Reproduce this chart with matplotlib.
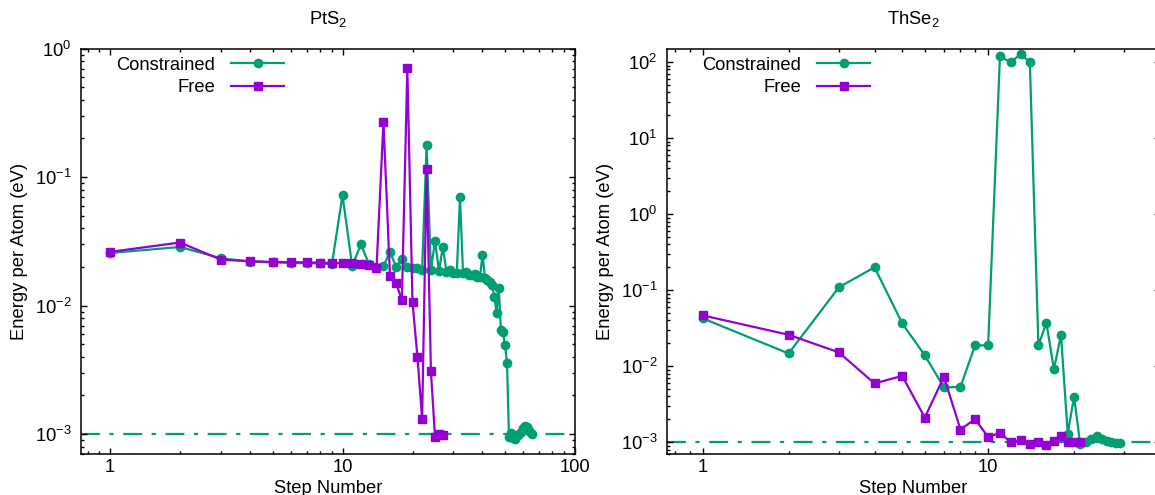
import math
import matplotlib
matplotlib.use("Agg")
import matplotlib.pyplot as plt
from matplotlib.ticker import LogLocator, FuncFormatter, NullFormatter

plt.rcParams["font.family"] = ["Liberation Sans", "DejaVu Sans"]
plt.rcParams["mathtext.fontset"] = "custom"
plt.rcParams["mathtext.rm"] = "Liberation Sans"
plt.rcParams["mathtext.it"] = "Liberation Sans:italic"

GREEN = "#009E73"
PURPLE = "#9400D3"

# PtS2 panel
pts2_con_steps = list(range(1, 66))
pts2_con = [0.0257, 0.0286, 0.0234, 0.0220, 0.0217, 0.0215, 0.0214, 0.0213, 0.0210, 0.0724,
            0.0204, 0.0300, 0.0210, 0.0200, 0.0203, 0.0262, 0.0200, 0.0231, 0.0200, 0.0198,
            0.0195, 0.0188, 0.178, 0.0189, 0.0318, 0.0186, 0.0286, 0.0184, 0.0190, 0.0181,
            0.0179, 0.0695, 0.0178, 0.0182, 0.0174, 0.0172, 0.0176, 0.0168, 0.0166, 0.0250,
            0.0164, 0.0159, 0.0153, 0.0146, 0.0117, 0.0088, 0.0138, 0.0065, 0.0062, 0.0049,
            0.0036, 0.00095, 0.00102, 0.00094, 0.00092, 0.00096, 0.00099, 0.00102, 0.00106, 0.00111,
            0.00116, 0.00114, 0.00110, 0.00104, 0.00101]
pts2_free_steps = list(range(1, 28))
pts2_free = [0.0262, 0.0310, 0.0228, 0.0222, 0.0219, 0.0218, 0.0217, 0.0216, 0.0215, 0.0214,
             0.0213, 0.0212, 0.0207, 0.0196, 0.268, 0.0170, 0.0150, 0.0110, 0.705, 0.0106,
             0.0040, 0.00131, 0.115, 0.0031, 0.00095, 0.00100, 0.00098]

# ThSe2 panel
thse2_con_steps = list(range(1, 30))
thse2_con = [0.0426, 0.0147, 0.109, 0.200, 0.0366, 0.0139, 0.00526, 0.00535, 0.0188, 0.0188,
             119, 100, 127, 100, 0.0188, 0.0372, 0.00906, 0.0259, 0.0013, 0.00395,
             0.00096, 0.00100, 0.00110, 0.00120, 0.00110, 0.00104, 0.00100, 0.00098, 0.00098]
thse2_free_steps = list(range(1, 22))
thse2_free = [0.0466, 0.0259, 0.0152, 0.00593, 0.00746, 0.00211, 0.00725, 0.00147, 0.00201, 0.00117,
              0.00133, 0.00100, 0.00106, 0.00094, 0.00100, 0.00092, 0.00104, 0.00120, 0.00100, 0.00100,
              0.00100]

threshold = 1e-3

panels = [
    ("PtS$_\\mathdefault{2}$", pts2_con_steps, pts2_con, pts2_free_steps, pts2_free, (0.75, 100), (7e-4, 1)),
    ("ThSe$_\\mathdefault{2}$", thse2_con_steps, thse2_con, thse2_free_steps, thse2_free, (0.75, 40), (7e-4, 150)),
]

fig = plt.figure(figsize=(11.55, 4.95), dpi=100)
positions = [[81 / 1155, 41 / 495, 494 / 1155, 405.3 / 495],
             [667 / 1155, 41 / 495, 493 / 1155, 405.3 / 495]]


def pow_label(v, pos):
    return r"$\mathdefault{10^{%d}}$" % round(math.log10(v))


def plain_label(v, pos):
    return "%g" % v


for (title, cs, cv, fs, fv, xl, yl), pos in zip(panels, positions):
    ax = fig.add_axes(pos)
    ax.set_xscale("log")
    ax.set_yscale("log")
    ax.axhline(threshold, color=GREEN, lw=1.6, dashes=(8.5, 4.3, 1.9, 4.3), zorder=1)
    ax.plot(cs, cv, color=GREEN, lw=1.6, marker="o", ms=6, label="Constrained", zorder=2)
    ax.plot(fs, fv, color=PURPLE, lw=1.6, marker="s", ms=6, label="Free", zorder=3)
    ax.set_xlim(*xl)
    ax.set_ylim(*yl)

    ax.xaxis.set_major_locator(LogLocator(base=10, numticks=20))
    ax.xaxis.set_minor_locator(LogLocator(base=10, subs=range(2, 10), numticks=20))
    ax.yaxis.set_major_locator(LogLocator(base=10, numticks=20))
    ax.yaxis.set_minor_locator(LogLocator(base=10, subs=range(2, 10), numticks=20))
    ax.xaxis.set_major_formatter(FuncFormatter(plain_label))
    ax.yaxis.set_major_formatter(FuncFormatter(pow_label))
    ax.xaxis.set_minor_formatter(NullFormatter())
    ax.yaxis.set_minor_formatter(NullFormatter())
    ax.tick_params(which="both", direction="in", top=True, right=True, width=1, labelsize=13.2)
    ax.tick_params(which="major", length=4)
    ax.tick_params(which="minor", length=2)
    ax.tick_params(axis="x", pad=3.5)
    ax.tick_params(axis="y", pad=7)
    for s in ax.spines.values():
        s.set_linewidth(1.1)

    ax.set_title(title, fontsize=13.2, pad=18)
    ax.set_xlabel("Step Number", fontsize=13.2, labelpad=3)
    ax.set_ylabel("Energy per Atom (eV)", fontsize=13.2)
    ax.yaxis.set_label_coords(-0.108, 0.5)

    ax.legend(loc="upper left", bbox_to_anchor=(0.072, 0.98), frameon=False, markerfirst=False,
              fontsize=13.2, handlelength=2.9, handletextpad=0.85, borderpad=0, borderaxespad=0,
              labelspacing=0.3, numpoints=1)

fig.savefig("out.png", dpi=100)
